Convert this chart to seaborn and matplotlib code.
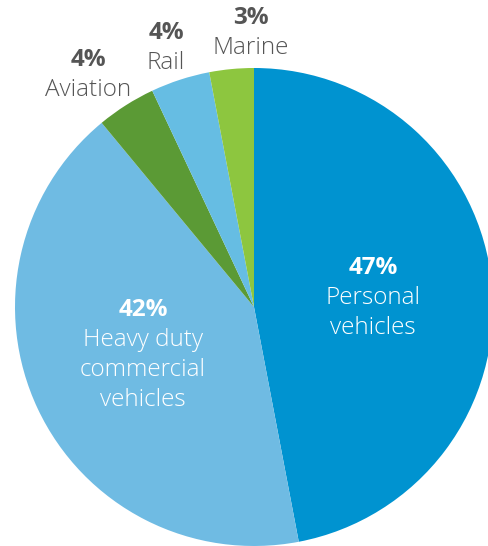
import matplotlib.pyplot as plt
import seaborn as sns

sns.set_theme(style="white")
plt.rcParams['font.family'] = ['Open Sans', 'DejaVu Sans']

modes = ["Personal\nvehicles", "Heavy duty\ncommercial\nvehicles", "Aviation", "Rail", "Marine"]
shares = [47, 42, 4, 4, 3]
colors = ["#0093D0", "#6FBBE3", "#5B9A35", "#66BDE3", "#8DC63F"]

# label anchor (x, y from top) in pixel-like axes units and text colour
label_pos = [(373, 268), (143, 310), (88, 60), (166, 33), (251, 18)]
label_col = ["white", "white", "#555555", "#555555", "#555555"]
line_step = 30

fig = plt.figure(figsize=(4.89, 5.46), dpi=100)
ax = fig.add_axes([0, 0, 1, 1])
ax.pie(shares, colors=colors, startangle=90, counterclock=False,
       center=(254, 239), radius=239, wedgeprops=dict(linewidth=0))
ax.set_xlim(0, 489)
ax.set_ylim(0, 546)
ax.set_aspect("equal")
ax.axis("off")

for mode, share, (x, y), c in zip(modes, shares, label_pos, label_col):
    ax.text(x, 546 - y, f"{share}%", ha="center", va="center",
            fontsize=17.5, fontweight="bold", color=c)
    for i, line in enumerate(mode.split("\n")):
        ax.text(x, 546 - y - line_step * (i + 1), line, ha="center", va="center",
                fontsize=17.5, fontweight="light", color=c)

fig.savefig("out.png", dpi=100)
